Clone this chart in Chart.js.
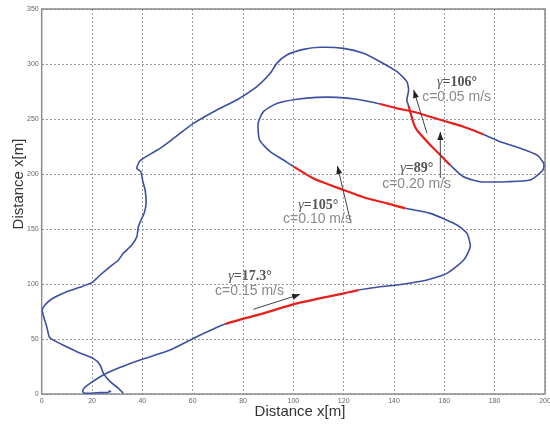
<!DOCTYPE html>
<html>
<head>
<meta charset="utf-8">
<script src="https://cdn.jsdelivr.net/npm/chart.js@4/dist/chart.umd.min.js"></script>
<style>
  body { margin: 0; background: #fff; }
</style>
</head>
<body>
<canvas id="chart" width="550" height="429"></canvas>
<script>
// 軌跡の座標 [m]
const pathX = [32.4, 30.5, 27.2, 24.5, 23.2, 20.5, 13.9, 9.9, 4.6, 3.0,
    2.0, 0.6, 0.2, 1.3, 4.0, 9.9, 15.2, 19.9, 22.5, 27.2,
    30.5, 32.4, 35.8, 37.8, 38.4, 39.5, 40.7, 41.5, 41.1, 40.2,
    39.4, 37.8, 38.8, 40.4, 47.0, 52.4, 60.3, 69.6, 77.5, 85.5,
    90.8, 93.4, 97.4, 104.0, 110.7, 120.0, 127.9, 134.5, 141.2, 145.1,
    145.8, 145.1, 145.8, 147.8, 149.1, 154.4, 158.4, 162.3, 167.6, 174.3,
    184.9, 194.1, 199.2, 199.5, 196.8, 190.2, 182.2, 175.6, 167.6, 161.0,
    154.4, 147.8, 141.2, 134.5, 125.2, 117.3, 109.3, 101.4, 93.4, 88.1,
    86.0, 86.6, 90.8, 96.1, 100.1, 108.0, 120.0, 129.2, 137.2, 144.5,
    154.4, 165.0, 169.0, 170.3, 167.7, 161.0, 153.1, 141.2, 133.2, 125.9,
    120.0, 101.4, 88.1, 72.9, 61.6, 51.0, 39.1, 31.0, 24.5, 19.2,
    16.8, 16.3, 17.2, 21.9, 26.5, 27.0, 27.5];
const pathY = [0.6, 5.2, 11.2, 18.8, 26.4, 32.4, 38.5, 43.0, 49.0, 52.0,
    61.2, 71.8, 76.4, 80.9, 86.4, 93.0, 97.0, 101.2, 106.6, 115.7,
    121.8, 127.9, 135.5, 143.0, 152.1, 158.2, 164.3, 173.4, 185.5, 193.0,
    202.1, 205.2, 211.2, 214.3, 223.3, 232.4, 246.0, 258.2, 267.3, 279.4,
    291.5, 300.6, 308.2, 313.3, 315.2, 314.2, 309.7, 302.0, 293.0, 284.0,
    276.4, 267.3, 261.8, 246.0, 240.0, 226.4, 217.3, 208.2, 197.5, 193.0,
    193.0, 194.5, 203.6, 209.7, 217.3, 223.4, 229.4, 236.0, 243.0, 247.5,
    252.1, 256.6, 259.7, 263.6, 267.9, 269.7, 269.7, 267.9, 264.2, 256.7,
    246.0, 230.9, 220.3, 212.7, 206.7, 196.0, 185.5, 177.9, 173.3, 168.8,
    164.2, 153.6, 146.0, 133.9, 121.8, 109.7, 103.6, 99.1, 97.0, 94.5,
    91.5, 82.4, 73.3, 63.6, 52.1, 40.0, 30.9, 24.0, 17.3, 9.7,
    5.2, 2.1, 0.6, 1.2, 1.5, 3.0, 1.5];

// 赤で塗る区間(点のインデックス 開始〜終了)
const redRanges = [[52, 57], [67, 73], [84, 89], [99, 103]];

// 軸の範囲と目盛り
const xMin = 0, xMax = 200, xStep = 20;
const yMin = 0, yMax = 350, yStep = 50;
const axisTitle = 'Distance x[m]';

// 注記(γ と流速)とその矢印
const gammaLabels = ['106°', '89°', '105°', '17.3°'];
const speedLabels = ['c=0.05 m/s', 'c=0.20 m/s', 'c=0.10 m/s', 'c=0.15 m/s'];
const gammaAt = [[157.1, 283.6], [142.5, 205.5], [101.9, 171.8], [74.1, 107.3]];
const speedAt = [[151.2, 269.5], [135.3, 190.9], [95.9, 159.0], [68.9, 93.6]];
const arrowFrom = [[153.1, 237.0], [158.4, 196.4], [122.9, 155.2], [84.1, 77.0]];
const arrowTo = [[147.8, 276.4], [158.4, 238.2], [117.5, 207.3], [102.7, 90.6]];

const blue = '#3d4fa3';
const red = '#e8201c';

let points = pathX.map((x, i) => ({ x: x, y: pathY[i] }));

function isRed(i) {
    return redRanges.some(r => i >= r[0] && i < r[1]);
}

// 枠・注記・軸タイトルを描くプラグイン
const decoPlugin = {
    id: 'deco',
    beforeDatasetsDraw(chart) {
        const { ctx, chartArea: a } = chart;
        ctx.save();
        ctx.strokeStyle = '#8c8c8c';
        ctx.lineWidth = 1.5;
        ctx.strokeRect(a.left, a.top, a.right - a.left, a.bottom - a.top);
        ctx.restore();
    },
    afterDatasetsDraw(chart) {
        const { ctx } = chart;
        const sx = chart.scales.x, sy = chart.scales.y;
        ctx.save();

        // 矢印
        arrowFrom.forEach((f, i) => {
            const x0 = sx.getPixelForValue(f[0]), y0 = sy.getPixelForValue(f[1]);
            const x1 = sx.getPixelForValue(arrowTo[i][0]), y1 = sy.getPixelForValue(arrowTo[i][1]);
            const ang = Math.atan2(y1 - y0, x1 - x0);
            ctx.strokeStyle = '#444';
            ctx.fillStyle = '#222';
            ctx.lineWidth = 1;
            ctx.beginPath();
            ctx.moveTo(x0, y0);
            ctx.lineTo(x1, y1);
            ctx.stroke();
            ctx.beginPath();
            ctx.moveTo(x1, y1);
            ctx.lineTo(x1 - 8 * Math.cos(ang) + 3 * Math.sin(ang), y1 - 8 * Math.sin(ang) - 3 * Math.cos(ang));
            ctx.lineTo(x1 - 8 * Math.cos(ang) - 3 * Math.sin(ang), y1 - 8 * Math.sin(ang) + 3 * Math.cos(ang));
            ctx.closePath();
            ctx.fill();
        });

        // γ の注記
        ctx.textBaseline = 'middle';
        ctx.textAlign = 'left';
        gammaLabels.forEach((g, i) => {
            let x = sx.getPixelForValue(gammaAt[i][0]);
            const y = sy.getPixelForValue(gammaAt[i][1]);
            ctx.fillStyle = '#555';
            ctx.font = 'italic 14px "Liberation Serif"';
            ctx.fillText('γ', x, y);
            x += ctx.measureText('γ').width;
            ctx.font = 'bold 14px "Liberation Serif"';
            ctx.fillText('=' + g, x, y);
        });

        // 流速の注記
        ctx.font = '14px "Liberation Sans"';
        ctx.fillStyle = '#8a8a8a';
        speedLabels.forEach((s, i) => {
            ctx.fillText(s, sx.getPixelForValue(speedAt[i][0]), sy.getPixelForValue(speedAt[i][1]));
        });

        // 軸タイトル
        ctx.font = '15px "Liberation Sans"';
        ctx.fillStyle = '#333';
        ctx.textAlign = 'center';
        ctx.fillText(axisTitle, 300, 412);
        ctx.translate(19, 184);
        ctx.rotate(-Math.PI / 2);
        ctx.fillText(axisTitle, 0, 0);
        ctx.restore();
    }
};

let ctx = document.getElementById('chart');

let chart = new Chart(ctx, {
    type: 'scatter',
    data: {
        datasets: [{
            data: points,
            showLine: true,
            pointRadius: 0,
            borderWidth: 1.6,
            tension: 0.2,
            borderColor: blue,
            segment: {
                borderColor: c => isRed(c.p0DataIndex) ? red : blue,
                borderWidth: c => isRed(c.p0DataIndex) ? 2.2 : 1.6
            }
        }]
    },
    options: {
        responsive: false,
        animation: false,
        devicePixelRatio: 1,
        layout: { padding: { top: 9, right: 0, left: 0, bottom: 0 } },
        plugins: { legend: { display: false }, tooltip: { enabled: false } },
        scales: {
            x: {
                type: 'linear',
                min: xMin, max: xMax,
                // 右端の余白を固定する
                afterFit: s => { s.height = 35; s.paddingRight = 5; s.paddingLeft = 0; },
                ticks: { stepSize: xStep, padding: 3, color: '#666', font: { size: 7, family: 'Liberation Sans' }, maxRotation: 0 },
                grid: { color: '#9a9a9a', lineWidth: 1, drawTicks: false },
                border: { display: false, dash: [2, 2] }
            },
            y: {
                type: 'linear',
                min: yMin, max: yMax,
                afterFit: s => { s.width = 41.7; s.paddingTop = 0; s.paddingBottom = 0; },
                ticks: { stepSize: yStep, padding: 3, color: '#666', font: { size: 7, family: 'Liberation Sans' } },
                grid: { color: '#9a9a9a', lineWidth: 1, drawTicks: false },
                border: { display: false, dash: [2, 2] }
            }
        }
    },
    plugins: [decoPlugin]
});
</script>
</body>
</html>
